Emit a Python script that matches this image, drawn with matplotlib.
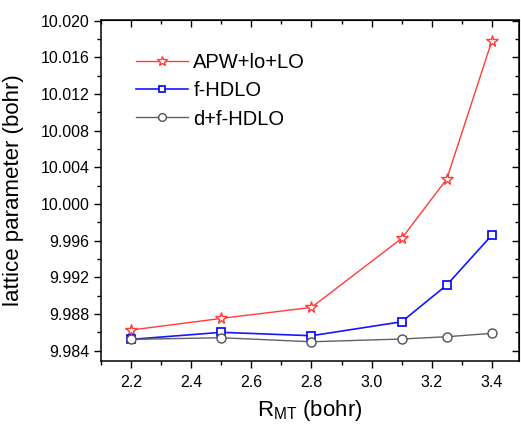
import numpy as np
import matplotlib
matplotlib.use("Agg")
import matplotlib.pyplot as plt
from matplotlib.ticker import MultipleLocator, FormatStrFormatter

plt.rcParams['font.family'] = ['Liberation Sans', 'DejaVu Sans']

# R_MT values (bohr)
rmt = [2.2, 2.5, 2.8, 3.1, 3.25, 3.4]

# lattice parameter (bohr) for each basis set
apw_lo = [9.98626, 9.98753, 9.98873, 9.99626, 10.00273, 10.01782]
f_hdlo = [9.98524, 9.98601, 9.98564, 9.98716, 9.99117, 9.99662]
df_hdlo = [9.98524, 9.98542, 9.98498, 9.98528, 9.98553, 9.98590]

labels = ['APW+lo+LO', 'f-HDLO', 'd+f-HDLO']

fig = plt.figure(figsize=(5.21, 4.24), dpi=100)
ax = fig.add_axes([0.194, 0.149, 0.802, 0.804])

ax.plot(rmt, apw_lo, color='#ff3b3b', lw=1.0, marker='*', ms=8.5,
        mfc='white', mec='#ff3b3b', mew=1.0, label=labels[0])
ax.plot(rmt, f_hdlo, color='#1515ff', lw=1.2, marker='s', ms=5.8,
        mfc='white', mec='#0000ff', mew=1.2, label=labels[1])
ax.plot(rmt, df_hdlo, color='#606060', lw=1.0, marker='o', ms=6.5,
        mfc='white', mec='#505050', mew=1.0, label=labels[2])

ax.set_xlim(2.1, 3.49)
ax.set_ylim(9.9829, 10.0201)

ax.xaxis.set_major_locator(MultipleLocator(0.2))
ax.xaxis.set_minor_locator(MultipleLocator(0.1))
ax.xaxis.set_major_formatter(FormatStrFormatter('%.1f'))
ax.yaxis.set_major_locator(MultipleLocator(0.004))
ax.yaxis.set_minor_locator(MultipleLocator(0.002))
ax.yaxis.set_major_formatter(FormatStrFormatter('%.3f'))

ax.tick_params(which='both', direction='out', width=1.0, labelsize=11.5)
ax.tick_params(which='major', length=5)
ax.tick_params(which='minor', length=3)
ax.tick_params(axis='x', pad=5)
for s in ax.spines.values():
    s.set_linewidth(1.1)

# mirrored ticks on top/right, pointing inward
top = ax.secondary_xaxis('top')
top.xaxis.set_major_locator(MultipleLocator(0.2))
top.xaxis.set_minor_locator(MultipleLocator(0.1))
top.tick_params(which='both', direction='in', labeltop=False, width=1.0)
top.tick_params(which='major', length=5)
top.tick_params(which='minor', length=3)
right = ax.secondary_yaxis('right')
right.yaxis.set_major_locator(MultipleLocator(0.004))
right.yaxis.set_minor_locator(MultipleLocator(0.002))
right.tick_params(which='both', direction='in', labelright=False, width=1.0)
right.tick_params(which='major', length=5)
right.tick_params(which='minor', length=3)

ax.set_xlabel(r'$\mathregular{R_{MT}}$ (bohr)', fontsize=16, labelpad=6)
ax.set_ylabel('lattice parameter (bohr)', fontsize=16, labelpad=12)

ax.legend(loc='upper left', bbox_to_anchor=(0.04, 0.955), frameon=False,
          fontsize=14.5, handlelength=2.6, handletextpad=0.25,
          labelspacing=0.45, markerscale=0.85)

fig.savefig('out.png', dpi=100)
